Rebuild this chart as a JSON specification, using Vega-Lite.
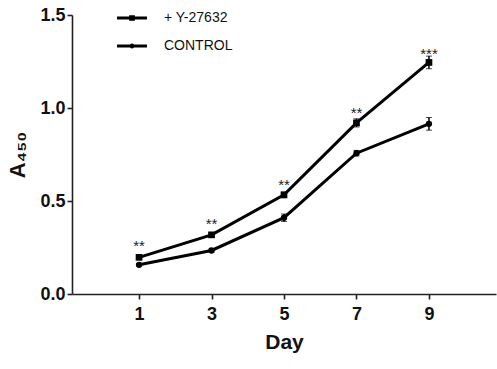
{
  "$schema": "https://vega.github.io/schema/vega-lite/v6.json",
  "width": 424,
  "height": 279,
  "autosize": {"type": "none"},
  "padding": {"left": 72, "top": 15, "right": 1, "bottom": 75},
  "background": "white",
  "config": {
    "view": {"stroke": null},
    "font": "Liberation Sans",
    "axis": {"grid": false, "domainColor": "#222", "domainWidth": 1.6, "tickColor": "#222", "tickWidth": 1.6, "tickSize": 5, "labelColor": "#111", "titleColor": "#111", "labelFont": "Liberation Sans", "titleFont": "Liberation Sans", "labelFontWeight": "bold", "titleFontWeight": "bold"}
  },
  "datasets": {
    "pts": [
      {"day": 1, "value": 0.197, "err": 0.01, "series": "+ Y-27632"},
      {"day": 3, "value": 0.318, "err": 0.01, "series": "+ Y-27632"},
      {"day": 5, "value": 0.533, "err": 0.015, "series": "+ Y-27632"},
      {"day": 7, "value": 0.92, "err": 0.022, "series": "+ Y-27632"},
      {"day": 9, "value": 1.245, "err": 0.034, "series": "+ Y-27632"},
      {"day": 1, "value": 0.157, "err": 0.006, "series": "CONTROL"},
      {"day": 3, "value": 0.234, "err": 0.008, "series": "CONTROL"},
      {"day": 5, "value": 0.41, "err": 0.02, "series": "CONTROL"},
      {"day": 7, "value": 0.757, "err": 0.015, "series": "CONTROL"},
      {"day": 9, "value": 0.915, "err": 0.034, "series": "CONTROL"}
    ],
    "stars": [
      {"day": 1, "pos": 0.279, "mark": "**"},
      {"day": 3, "pos": 0.397, "mark": "**"},
      {"day": 5, "pos": 0.607, "mark": "**"},
      {"day": 7, "pos": 0.993, "mark": "**"},
      {"day": 9, "pos": 1.31, "mark": "***"}
    ]
  },
  "layer": [
    {
      "data": {"name": "pts"},
      "mark": {"type": "line", "color": "black", "strokeWidth": 3},
      "encoding": {
        "x": {"field": "day", "type": "quantitative", "scale": {"domain": [-0.85, 10.85], "nice": false, "zero": false}, "axis": {"values": [1, 3, 5, 7, 9], "title": "Day", "labelFontSize": 18, "titleFontSize": 21, "labelPadding": 6, "titlePadding": 8}},
        "y": {"field": "value", "type": "quantitative", "title": "A₄₅₀", "scale": {"domain": [0, 1.5], "nice": false}, "axis": {"values": [0, 0.5, 1, 1.5], "format": ".1f", "title": "A₄₅₀", "labelFontSize": 18, "titleFontSize": 22, "labelPadding": 2, "titlePadding": 10}},
        "detail": {"field": "series"}
      }
    },
    {
      "data": {"name": "pts"},
      "mark": {"type": "errorbar", "ticks": {"size": 6, "color": "black", "strokeWidth": 1.5}, "rule": {"color": "black", "strokeWidth": 1.5}},
      "encoding": {
        "x": {"field": "day", "type": "quantitative"},
        "y": {"field": "value", "type": "quantitative", "title": "A₄₅₀"},
        "yError": {"field": "err"}
      }
    },
    {
      "data": {"name": "pts"},
      "transform": [{"filter": "datum.series == '+ Y-27632'"}],
      "mark": {"type": "point", "shape": "square", "filled": true, "color": "black", "opacity": 1, "size": 45},
      "encoding": {
        "x": {"field": "day", "type": "quantitative"},
        "y": {"field": "value", "type": "quantitative", "title": "A₄₅₀"}
      }
    },
    {
      "data": {"name": "pts"},
      "transform": [{"filter": "datum.series == 'CONTROL'"}],
      "mark": {"type": "point", "shape": "circle", "filled": true, "color": "black", "opacity": 1, "size": 40},
      "encoding": {
        "x": {"field": "day", "type": "quantitative"},
        "y": {"field": "value", "type": "quantitative", "title": "A₄₅₀"}
      }
    },
    {
      "data": {"name": "pts"},
      "transform": [{"filter": "false"}],
      "mark": {"type": "point", "filled": true, "fill": "black", "opacity": 1},
      "encoding": {
        "x": {"field": "day", "type": "quantitative"},
        "y": {"field": "value", "type": "quantitative", "title": "A₄₅₀"},
        "shape": {
          "field": "series", "type": "nominal",
          "scale": {"domain": ["+ Y-27632", "CONTROL"], "range": ["M-1.36,-0.13H-0.22V0.13H-1.36ZM0.22,-0.13H1.36V0.13H0.22ZM-0.26,-0.26H0.26V0.26H-0.26Z", "M-1.36,-0.13H-0.18V0.13H-1.36ZM0.18,-0.13H1.36V0.13H0.18ZM0.23,0A0.23,0.23,0,1,1,-0.23,0A0.23,0.23,0,1,1,0.23,0Z"]},
          "legend": {
            "title": null, "orient": "none", "legendX": 49, "legendY": -8,
            "labelFontSize": 14, "labelFont": "Liberation Sans", "labelColor": "#111", "labelOffset": 21,
            "symbolSize": 484, "rowPadding": 10, "padding": 0,
            "symbolFillColor": "black", "symbolStrokeColor": "black", "symbolStrokeWidth": 0, "symbolOpacity": 1
          }
        },
        "size": {"value": 484}
      }
    },
    {
      "data": {"name": "stars"},
      "mark": {"type": "text", "fontSize": 15, "color": "#222", "baseline": "middle", "dy": 4},
      "encoding": {
        "x": {"field": "day", "type": "quantitative"},
        "y": {"field": "pos", "type": "quantitative"},
        "text": {"field": "mark"}
      }
    }
  ]
}
